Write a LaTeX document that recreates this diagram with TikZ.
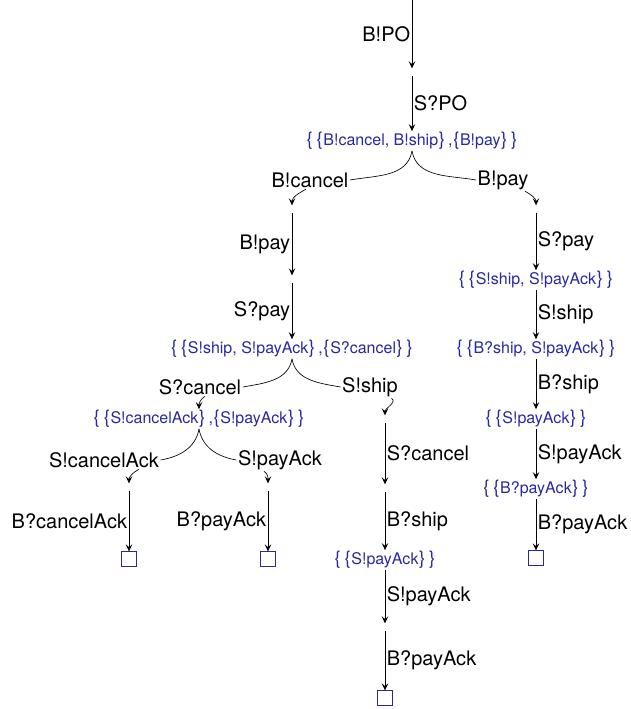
\documentclass[tikz,border=0pt]{standalone}
\usepackage{fontspec}
\setmainfont{TeX Gyre Heros}
\usetikzlibrary{arrows.meta}
\definecolor{setblue}{RGB}{40,40,160}
\newcommand{\lblfont}{\fontsize{20}{24}\selectfont}
\newcommand{\setfont}{\fontsize{16}{20}\selectfont}
\newcommand{\lbr}{\kern0.6pt{\fontsize{18.5}{20}\selectfont\{}\kern0.6pt}
\newcommand{\rbr}{\kern0.6pt{\fontsize{18.5}{20}\selectfont\}}\kern0.6pt}

\begin{document}
\begin{tikzpicture}[x=1pt,y=-1pt,
    state/.style={inner sep=0pt,minimum size=7pt},
    setnode/.style={text=setblue,font=\setfont,inner sep=1pt},
    leaf/.style={draw=setblue,line width=0.8pt,minimum size=14.5pt,inner sep=0pt},
    act/.style={font=\lblfont,inner sep=1.5pt},
    trans/.style={line width=0.65pt,-{Stealth[length=7pt,width=6.5pt,inset=2.8pt]}},
    branch/.style={line width=0.65pt}]
    \useasboundingbox (0,0) rectangle (631,709);

    \coordinate (start) at (412,0);
    \node[state] (q1) at (412,72) {};
    \node[setnode] (n0) at (412,141) {\lbr\,\lbr B!cancel, B!ship\rbr\,,\lbr B!pay\rbr\,\rbr};
    \node[act] (l1) at (310,180) {B!cancel};
    \node[act] (l2) at (503,180) {B!pay};

    \node[state] (q2) at (292,209) {};
    \node[state] (q3) at (292,279) {};
    \node[setnode] (n1) at (292,349) {\lbr\,\lbr S!ship, S!payAck\rbr\,,\lbr S?cancel\rbr\,\rbr};
    \node[act] (l3) at (200,387) {S?cancel};
    \node[act] (l4) at (370,387) {S!ship};
    \node[setnode] (n6) at (199,419) {\lbr\,\lbr S!cancelAck\rbr\,,\lbr S!payAck\rbr\,\rbr};
    \node[act] (l5) at (104,460) {S!cancelAck};
    \node[act] (l6) at (280,460) {S!payAck};
    \node[state] (q6) at (129,487) {};
    \node[state] (q7) at (268,487) {};
    \node[leaf] (f1) at (129,559) {};
    \node[leaf] (f2) at (268,559) {};

    \node[state] (q5) at (385,419) {};
    \node[state] (q8) at (385,488) {};
    \node[setnode] (n7) at (385,560) {\lbr\,\lbr S!payAck\rbr\,\rbr};
    \node[state] (q9) at (385,627) {};
    \node[leaf] (f4) at (385,698) {};

    \node[state] (q4) at (536,209) {};
    \node[setnode] (n2) at (536,280) {\lbr\,\lbr S!ship, S!payAck\rbr\,\rbr};
    \node[setnode] (n3) at (536,349) {\lbr\,\lbr B?ship, S!payAck\rbr\,\rbr};
    \node[setnode] (n4) at (536,419) {\lbr\,\lbr S!payAck\rbr\,\rbr};
    \node[setnode] (n5) at (536,489) {\lbr\,\lbr B?payAck\rbr\,\rbr};
    \node[leaf] (f3) at (536,558) {};

    \draw[trans] (start) -- node[act,left]{B!PO} (q1);
    \draw[trans] (q1) -- node[act,right]{S?PO} (n0);
    \draw[branch] (n0.south) to[out=-100,in=10] (l1.east);
    \draw[branch] (n0.south) to[out=-80,in=170] (l2.west);
    \draw[trans] ([xshift=-4pt]l1.south) to[out=-150,in=90] (q2);
    \draw[trans] ([xshift=-5pt]l2.south east) to[out=-30,in=90] (q4);

    \draw[trans] (q2) -- node[act,left]{B!pay} (q3);
    \draw[trans] (q3) -- node[act,left]{S?pay} (n1);
    \draw[branch] (n1.south) to[out=-100,in=10] (l3.east);
    \draw[branch] (n1.south) to[out=-80,in=170] (l4.west);
    \draw[trans] ([xshift=5pt]l3.south) to[out=-150,in=90] (n6);
    \draw[trans] ([xshift=-8pt]l4.south east) to[out=-30,in=90] (q5);

    \draw[branch] (n6.south) to[out=-100,in=10] (l5.east);
    \draw[branch] (n6.south) to[out=-80,in=170] (l6.west);
    \draw[trans] ([xshift=-22pt]l5.south east) to[out=-150,in=90] (q6);
    \draw[trans] ([xshift=-16pt]l6.south) to[out=-30,in=90] (q7);
    \draw[trans] (q6) -- node[act,left]{B?cancelAck} (f1);
    \draw[trans] (q7) -- node[act,left]{B?payAck} (f2);

    \draw[trans] (q5) -- node[act,right]{S?cancel} (q8);
    \draw[trans] (q8) -- node[act,right]{B?ship} (n7);
    \draw[trans] (n7) -- node[act,right]{S!payAck} (q9);
    \draw[trans] (q9) -- node[act,right]{B?payAck} (f4);

    \draw[trans] (q4) -- node[act,right]{S?pay} (n2);
    \draw[trans] (n2) -- node[act,right]{S!ship} (n3);
    \draw[trans] (n3) -- node[act,right]{B?ship} (n4);
    \draw[trans] (n4) -- node[act,right]{S!payAck} (n5);
    \draw[trans] (n5) -- node[act,right]{B?payAck} (f3);
\end{tikzpicture}
\end{document}
